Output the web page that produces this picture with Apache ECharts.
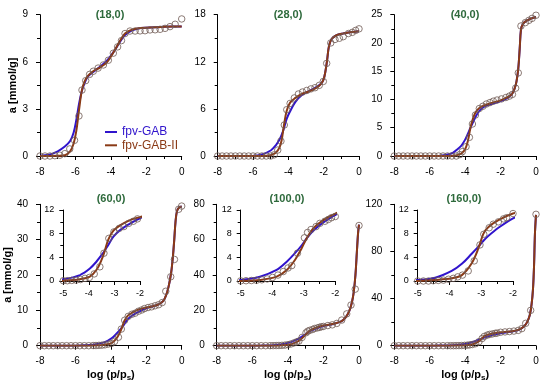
<!DOCTYPE html>
<html><head><meta charset="utf-8">
<script src="https://cdn.jsdelivr.net/npm/echarts@6/dist/echarts.min.js"></script>
<style>html,body{margin:0;padding:0;background:#fff}#c{width:550px;height:387px}</style>
</head><body><div id="c"></div>
<script>
// ---------- data ----------
const panelTitles = ['(18,0)', '(28,0)', '(40,0)', '(60,0)', '(100,0)', '(160,0)'];
const yMaxes = [9, 18, 25, 40, 80, 120];
const yIntervals = [3, 6, 5, 10, 20, 40];
const xMin = -8, xMax = 0, xInterval = 2;
const insetXMin = -5, insetXMax = -2, insetYMax = 12, insetYInterval = 4;

// panel (18,0)
const p1LineX = [-8,-7.5,-7,-6.6,-6.3,-6.1,-5.95,-5.8,-5.65,-5.5,-5.3,-5,-4.6,-4.2,-3.8,-3.5,-3.2,-2.8,-2.3,-1.5,-0.5,0];
const p1Gab   = [0.02,0.08,0.3,0.6,0.95,1.5,2.3,3.3,4.1,4.6,5.05,5.35,5.7,6.1,6.7,7.25,7.7,8.0,8.15,8.2,8.25,8.25];
const p1Gab2  = [0,0,0.01,0.05,0.3,0.8,1.6,2.9,4.1,4.7,5.1,5.4,5.65,6.0,6.7,7.3,7.8,8.05,8.15,8.2,8.25,8.25];
const p1PtsX  = [-8,-7.72,-7.44,-7.16,-6.88,-6.6,-6.32,-6.05,-5.8,-5.63,-5.42,-5.2,-4.99,-4.72,-4.42,-4.14,-3.86,-3.62,-3.4,-3.2,-2.92,-2.63,-2.35,-2.07,-1.79,-1.5,-1.22,-0.94,-0.66,-0.37,0];
const p1PtsY  = [0,0,0,0.02,0.05,0.15,0.45,1.0,2.55,4.2,4.8,5.2,5.4,5.6,5.8,6.1,6.55,6.95,7.35,7.8,7.96,7.96,7.97,7.98,8.03,8.04,8.07,8.13,8.24,8.39,8.73];

// panel (28,0)
const p2LineX = [-8,-6,-5.5,-5,-4.7,-4.5,-4.38,-4.25,-4.1,-3.9,-3.6,-3.25,-2.8,-2.4,-2.15,-2,-1.9,-1.8,-1.7,-1.55,-1.3,-0.9,-0.4,0];
const p2Gab   = [0,0.02,0.2,0.7,1.4,2.1,2.7,3.5,4.7,5.7,6.9,7.75,8.3,8.8,9.2,9.8,10.8,12.3,14.0,14.9,15.35,15.6,15.8,15.9];
const p2Gab2  = [0,0,0,0.1,0.45,1.1,2.0,3.9,5.7,6.8,7.4,7.9,8.25,8.7,9.2,9.8,10.8,12.3,14.0,14.9,15.35,15.6,15.8,15.9];
const p2PtsX  = [-8,-7.75,-7.5,-7.25,-7,-6.75,-6.5,-6.25,-6,-5.75,-5.5,-5.25,-5,-4.8,-4.6,-4.42,-4.23,-4.09,-3.9,-3.66,-3.43,-3.2,-2.96,-2.72,-2.49,-2.25,-2.02,-1.83,-1.6,-1.36,-1.11,-0.89,-0.6,-0.38,-0.19,0];
const p2PtsY  = [0,0,0,0,0,0,0,0,0,0,0,0,0,0.15,0.76,1.9,3.95,5.9,6.7,7.4,7.9,8.15,8.35,8.55,8.7,9.0,9.5,11.8,14.4,14.85,15.0,15.2,15.6,15.75,16.0,16.2];

// panel (40,0)
const p3LineX = [-8,-5.5,-5,-4.7,-4.4,-4.2,-4,-3.85,-3.7,-3.55,-3.4,-3.2,-2.9,-2.5,-2,-1.6,-1.35,-1.2,-1.1,-1,-0.92,-0.85,-0.75,-0.55,-0.25,0];
const p3Gab   = [0,0.02,0.25,0.55,1.3,1.9,2.9,3.9,5.0,6.0,7.0,8.0,8.8,9.2,9.7,10.3,11.0,12.0,13.2,15.5,19,22.3,23.3,23.9,24.35,24.6];
const p3Gab2  = [0,0,0,0.05,0.2,0.5,1.2,2.6,5.0,6.7,7.8,8.5,9.0,9.4,9.85,10.4,11.0,12.0,13.2,15.5,19,22.3,23.3,23.9,24.35,24.6];
const p3PtsX  = [-8,-7.75,-7.5,-7.25,-7,-6.75,-6.5,-6.25,-6,-5.75,-5.5,-5.25,-5,-4.75,-4.5,-4.3,-4.16,-3.95,-3.76,-3.59,-3.42,-3.2,-3.0,-2.8,-2.6,-2.41,-2.2,-1.95,-1.7,-1.5,-1.33,-1.15,-1.0,-0.85,-0.6,-0.4,-0.22,0];
const p3PtsY  = [0,0,0,0,0,0,0,0,0,0,0,0,0,0,0,0.25,0.77,1.65,3.3,5.66,7.25,8.4,8.8,9.2,9.45,9.7,9.9,10.1,10.35,10.6,10.9,12.0,14.7,23.0,23.6,24.0,24.35,24.9];

// panel (60,0)
const p4LineX = [-8,-6,-5.5,-5,-4.35,-3.96,-3.7,-3.5,-3.37,-3.24,-3.04,-2.78,-2.39,-2,-1.6,-1.3,-1.05,-0.9,-0.75,-0.6,-0.5,-0.42,-0.35,-0.27,-0.15,0];
const p4Gab   = [0,0.02,0.1,0.28,1.0,2.1,3.3,4.4,5.2,6.1,7.5,8.6,9.7,10.6,11.15,11.7,12.6,14.0,16.5,20.5,25,30,35,38,39.1,39.4];
const p4Gab2  = [0,0,0,0.05,0.3,0.75,1.9,3.6,5.2,7.0,8.5,9.4,10.3,10.8,11.2,11.7,12.6,14.0,16.5,20.5,25,30,35,38,39.1,39.4];
const p4PtsX  = [-8,-7.75,-7.5,-7.25,-7,-6.75,-6.5,-6.25,-6,-5.75,-5.5,-5.25,-5,-4.84,-4.67,-4.5,-4.33,-4.15,-3.98,-3.79,-3.57,-3.41,-3.22,-3.02,-2.81,-2.63,-2.44,-2.26,-2.1,-1.9,-1.7,-1.5,-1.3,-1.1,-0.9,-0.62,-0.41,-0.17,0];
const p4PtsY  = [0,0,0,0,0,0,0,0,0,0,0,0,0.05,0.05,0.1,0.15,0.25,0.45,0.6,1.2,2.4,4.7,7.2,8.3,8.9,9.2,9.75,10.1,10.5,10.8,11.0,11.3,11.6,12.2,15.4,19.5,24.4,38.6,39.5];

// panel (100,0)
const p5LineX = [-8,-6,-5.5,-5,-4.39,-3.86,-3.54,-3.28,-3.07,-2.91,-2.7,-2.38,-2,-1.44,-1,-0.75,-0.55,-0.4,-0.3,-0.2,-0.12,-0.05,0];
const p5Gab   = [0,0.02,0.06,0.17,0.73,1.86,3.27,4.7,6.0,7.2,8.5,9.9,11.15,12.3,13.7,16,19.5,24.5,30,40,53,64,68.5];
const p5Gab2  = [0,0,0,0.02,0.17,0.73,1.86,3.55,5.5,7.2,8.9,10.3,11.4,12.4,13.7,16,19.5,24.5,30,40,53,64,68.5];
const p5PtsX  = [-8,-7.75,-7.5,-7.25,-7,-6.75,-6.5,-6.25,-6,-5.75,-5.5,-5.25,-5,-4.83,-4.66,-4.5,-4.33,-4.16,-3.99,-3.82,-3.65,-3.5,-3.38,-3.2,-2.98,-2.88,-2.77,-2.61,-2.49,-2.33,-2.22,-2.12,-2.0,-1.75,-1.5,-1.25,-0.97,-0.69,-0.45,-0.21,0];
const p5PtsY  = [0,0,0,0,0,0,0,0,0,0,0,0,0.02,0.05,0.08,0.12,0.2,0.35,0.6,1.0,1.6,2.2,2.6,4.7,7.3,8.2,8.7,9.2,9.75,10.1,10.4,10.7,10.9,11.4,11.8,12.6,14.5,18.0,23,32,68];

// panel (160,0)
const p6LineX = [-8,-6,-5.5,-5,-4.45,-3.93,-3.61,-3.3,-3.09,-2.93,-2.78,-2.46,-2,-1.5,-1,-0.7,-0.5,-0.35,-0.25,-0.17,-0.11,-0.06,0];
const p6Gab   = [0,0.03,0.08,0.17,0.56,1.7,2.9,4.6,5.8,6.8,7.6,9.0,10.6,11.8,13.2,16,20,26,35,48,68,95,111];
const p6Gab2  = [0,0,0,0.02,0.17,0.45,1.0,3.0,5.5,8.0,9.1,10.3,11.4,12.1,13.4,16,20,26,35,48,68,95,111];
const p6PtsX  = [-8,-7.75,-7.5,-7.25,-7,-6.75,-6.5,-6.25,-6,-5.75,-5.5,-5.25,-5,-4.82,-4.66,-4.51,-4.35,-4.19,-4.03,-3.88,-3.74,-3.59,-3.41,-3.22,-3.04,-2.92,-2.75,-2.62,-2.46,-2.3,-2.2,-2.0,-1.75,-1.5,-1.25,-1.0,-0.8,-0.58,-0.3,0];
const p6PtsY  = [0,0,0,0,0,0,0,0,0,0,0,0,0,0,0,0.05,0.1,0.15,0.3,0.45,0.7,1.0,1.7,3.4,6.1,7.9,9.0,9.6,10.0,10.5,10.7,11.4,11.7,12.0,12.4,13.0,14.5,19,30,111.5];

const panels = [
  {lx: p1LineX, gab: p1Gab, gab2: p1Gab2, px: p1PtsX, py: p1PtsY},
  {lx: p2LineX, gab: p2Gab, gab2: p2Gab2, px: p2PtsX, py: p2PtsY},
  {lx: p3LineX, gab: p3Gab, gab2: p3Gab2, px: p3PtsX, py: p3PtsY},
  {lx: p4LineX, gab: p4Gab, gab2: p4Gab2, px: p4PtsX, py: p4PtsY},
  {lx: p5LineX, gab: p5Gab, gab2: p5Gab2, px: p5PtsX, py: p5PtsY},
  {lx: p6LineX, gab: p6Gab, gab2: p6Gab2, px: p6PtsX, py: p6PtsY}
];

// ---------- style / layout ----------
const FONT = '"Liberation Sans", Arial, sans-serif';
const BLUE = '#3014cc';
const BROWN = '#8a3a16';
const PT = '#6f5a54';
const TITLE_C = '#2e6a3c';

const mainGrids = [
  {left: 40, top: 14.7, width: 141.7, height: 141.3},
  {left: 217.7, top: 14.7, width: 141.3, height: 141.3},
  {left: 394.3, top: 14.7, width: 141.7, height: 141.3},
  {left: 40, top: 204.3, width: 141.7, height: 141.4},
  {left: 216.7, top: 204.3, width: 142.3, height: 141.4},
  {left: 394.3, top: 204.3, width: 141.7, height: 141.4}
];
const insetGrids = [
  {left: 63.3, top: 210, width: 76.7, height: 71},
  {left: 240.7, top: 210, width: 94.6, height: 71},
  {left: 417.7, top: 210, width: 95.3, height: 71}
];
const titlePos = [[110, 9], [288, 9], [465, 9], [111, 193], [287, 193], [464, 193]];

const zip = (xs, ys) => xs.map((x, i) => [x, ys[i]]);

const grids = mainGrids.concat(insetGrids).map(g => Object.assign({containLabel: false}, g));
const xAxes = [], yAxes = [], series = [];

function axisCommon(fs, margin) {
  return {
    axisLine: {show: true, onZero: false, lineStyle: {color: '#000', width: 1}},
    axisTick: {show: true, length: 4, lineStyle: {color: '#000', width: 1}},
    minorTick: {show: true, splitNumber: 2, length: 3, lineStyle: {color: '#000', width: 1}},
    splitLine: {show: false},
    minorSplitLine: {show: false},
    axisLabel: {fontSize: fs, color: '#000', fontFamily: FONT, margin: margin}
  };
}

for (let i = 0; i < 9; i++) {
  const inset = i >= 6;
  const p = inset ? i - 3 : i;
  const x = Object.assign({type: 'value', gridIndex: i}, axisCommon(inset ? 9 : 10, inset ? 8 : 11));
  const y = Object.assign({type: 'value', gridIndex: i}, axisCommon(inset ? 9 : 10, inset ? 9 : 12));
  if (inset) {
    x.min = insetXMin; x.max = insetXMax; x.interval = 1;
    y.min = 0; y.max = insetYMax; y.interval = insetYInterval;
  } else {
    x.min = xMin; x.max = xMax; x.interval = xInterval;
    y.min = 0; y.max = yMaxes[p]; y.interval = yIntervals[p];
    if (p === 0 || p === 3) {
      y.name = 'a [mmol/g]';
      y.nameLocation = 'middle';
      y.nameGap = 21;
      y.nameTextStyle = {fontSize: 11, fontWeight: 'bold', color: '#000', fontFamily: FONT};
    }
    if (p >= 3) {
      x.name = 'log (p/p{s|s})';
      x.nameLocation = 'middle';
      x.nameGap = 19;
      x.nameTextStyle = {fontSize: 11, fontWeight: 'bold', color: '#000', fontFamily: FONT,
        rich: {s: {fontSize: 8, fontWeight: 'bold', color: '#000', fontFamily: FONT, lineHeight: 8, padding: [6, 0, 0, 0]}}};
    }
  }
  xAxes.push(x); yAxes.push(y);

  const d = panels[p];
  series.push({
    name: 'fpv-GAB', type: 'line', xAxisIndex: i, yAxisIndex: i,
    data: zip(d.lx, d.gab), smooth: 0.35, symbol: 'none',
    lineStyle: {color: BLUE, width: 2}, itemStyle: {color: BLUE}, z: 2, clip: true
  });
  series.push({
    name: 'fpv-GAB-II', type: 'line', xAxisIndex: i, yAxisIndex: i,
    data: zip(d.lx, d.gab2), smooth: 0.35, symbol: 'none',
    lineStyle: {color: BROWN, width: 2}, itemStyle: {color: BROWN}, z: 3, clip: true
  });
  series.push({
    name: 'data', type: 'scatter', xAxisIndex: i, yAxisIndex: i,
    data: zip(d.px, d.py), symbol: 'circle', symbolSize: 6.5,
    itemStyle: {color: 'rgba(255,255,255,0)', borderColor: PT, borderWidth: 1}, z: 4, clip: true
  });
}

const titles = panelTitles.map((t, k) => ({
  text: t, left: titlePos[k][0], top: titlePos[k][1], textAlign: 'center', padding: 0,
  textStyle: {fontSize: 11, fontWeight: 'bold', color: TITLE_C, fontFamily: FONT}
}));

const option = {
  animation: false,
  backgroundColor: '#fff',
  title: titles,
  legend: {
    orient: 'vertical', left: 105, top: 126, itemWidth: 12, itemHeight: 2, itemGap: 1.3,
    padding: 0, icon: 'rect',
    textStyle: {fontSize: 12, fontFamily: FONT, lineHeight: 12},
    data: [
      {name: 'fpv-GAB', textStyle: {color: BLUE}, itemStyle: {color: BLUE}},
      {name: 'fpv-GAB-II', textStyle: {color: BROWN}, itemStyle: {color: BROWN}}
    ],
    selectedMode: false
  },
  grid: grids,
  xAxis: xAxes,
  yAxis: yAxes,
  series: series
};

const chart = echarts.init(document.getElementById('c'), null, {renderer: 'canvas'});
chart.setOption(option);
</script>
</body></html>
